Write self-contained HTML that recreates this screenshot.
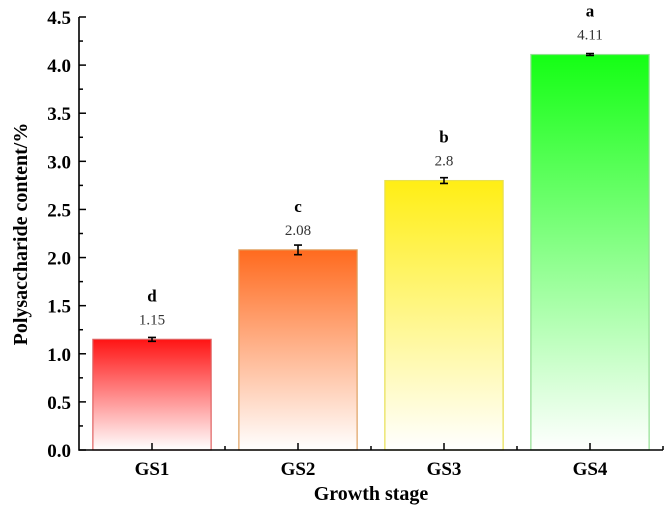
<!DOCTYPE html>
<html><head><meta charset="utf-8"><style>body{margin:0;background:#fff}svg{display:block;font-family:"Liberation Serif",serif}</style></head>
<body>
<svg id="chart" width="669" height="515">
<defs>
<linearGradient id="g0" x1="0" y1="0" x2="0" y2="1"><stop offset="0" stop-color="#ff1414"/><stop offset="1" stop-color="#ffffff"/></linearGradient>
<linearGradient id="g1" x1="0" y1="0" x2="0" y2="1"><stop offset="0" stop-color="#ff6a1e"/><stop offset="1" stop-color="#ffffff"/></linearGradient>
<linearGradient id="g2" x1="0" y1="0" x2="0" y2="1"><stop offset="0" stop-color="#ffee14"/><stop offset="1" stop-color="#ffffff"/></linearGradient>
<linearGradient id="g3" x1="0" y1="0" x2="0" y2="1"><stop offset="0" stop-color="#14ff14"/><stop offset="1" stop-color="#ffffff"/></linearGradient>
</defs>
</svg>
<script>
const categories=["GS1","GS2","GS3","GS4"];
const values=[1.15,2.08,2.8,4.11];
const errors=[0.02,0.05,0.03,0.01];
const letters=["d","c","b","a"];
const valueLabels=["1.15","2.08","2.8","4.11"];
const yTicks=[0,0.5,1,1.5,2,2.5,3,3.5,4,4.5];
const yTickLabels=["0.0","0.5","1.0","1.5","2.0","2.5","3.0","3.5","4.0","4.5"];
const strokes=["#e06060","#e0a060","#e8e050","#90e090"];
const svg=document.getElementById('chart');
const NS="http://www.w3.org/2000/svg";
const X0=79,X1=663,Y0=450,Y1=17,YMAX=4.5;
const band=(X1-X0)/categories.length;
const y=v=>Y0-(v/YMAX)*(Y0-Y1);
const xc=i=>X0+band*(i+0.5);
function mk(t,a,txt){const e=document.createElementNS(NS,t);for(const k in a)e.setAttribute(k,a[k]);if(txt!==undefined)e.textContent=txt;svg.appendChild(e);return e;}
categories.forEach((c,i)=>{
 const w=band*0.81;
 let r=mk('rect',{x:xc(i)-w/2,y:y(values[i]),width:w,height:Y0-y(values[i]),fill:`url(#g${i})`,stroke:strokes[i],'stroke-width':1.2});
 
 
 let e=mk('path',{d:`M${xc(i)},${y(values[i]+errors[i])}V${y(values[i]-errors[i])}M${xc(i)-4},${y(values[i]+errors[i])}H${xc(i)+4}M${xc(i)-4},${y(values[i]-errors[i])}H${xc(i)+4}`,stroke:'#000','stroke-width':1.6,fill:'none'});
 
 
 let v=mk('text',{x:xc(i),y:y(values[i])-15,'text-anchor':'middle','font-size':15,fill:'#333'},valueLabels[i]);
 
 
 let l=mk('text',{x:xc(i),y:y(values[i])-38,'text-anchor':'middle','font-size':17,'font-weight':'bold'},letters[i]);
 
 
 let t=mk('text',{x:xc(i),y:475,'text-anchor':'middle','font-size':19,'font-weight':'bold'},c);
 
 
 let tk=mk('line',{x1:xc(i),x2:xc(i),y1:Y0,y2:Y0-7,stroke:'#000','stroke-width':1.5});
 
 
 let mt=mk('line',{x1:X0+band*(i+1),x2:X0+band*(i+1),y1:Y0,y2:Y0-4,stroke:'#000','stroke-width':1.5});
 
 
});
yTicks.forEach((v,i)=>{
 let tk=mk('line',{x1:X0,x2:X0+7,y1:y(v),y2:y(v),stroke:'#000','stroke-width':1.5});
 
 
 if(i<yTicks.length-1){let m=mk('line',{x1:X0,x2:X0+4,y1:y(v+0.25),y2:y(v+0.25),stroke:'#000','stroke-width':1.5});
 
 }
 let t=mk('text',{x:X0-8,y:y(v)+7,'text-anchor':'end','font-size':19,'font-weight':'bold'},yTickLabels[i]);
 
 
});
let ax=mk('path',{d:`M${X0},${Y1}V${Y0}H${X1}`,stroke:'#000','stroke-width':1.6,fill:'none'});


let xt=mk('text',{x:371,y:500,'text-anchor':'middle','font-size':20,'font-weight':'bold'},'Growth stage');


let yt=mk('text',{x:0,y:0,transform:'translate(27,234) rotate(-90)','text-anchor':'middle','font-size':20,'font-weight':'bold'},'Polysaccharide content/%');


</script>
</body></html>
